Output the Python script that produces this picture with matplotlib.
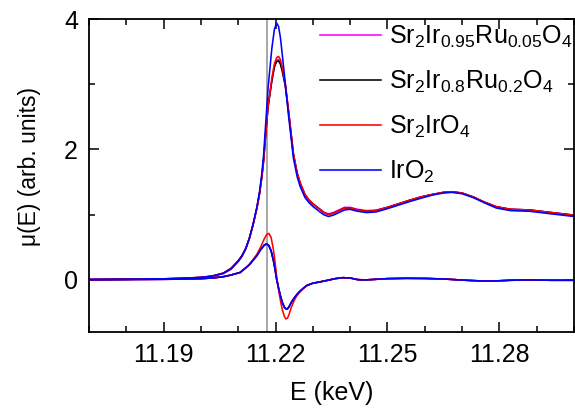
import matplotlib
matplotlib.use("Agg")
import matplotlib.pyplot as plt
from matplotlib.ticker import MultipleLocator

plt.rcParams["font.family"] = ["Liberation Sans", "DejaVu Sans"]
plt.rcParams["mathtext.fontset"] = "custom"
plt.rcParams["mathtext.rm"] = "Liberation Sans"
plt.rcParams["mathtext.it"] = "Liberation Sans"
plt.rcParams["mathtext.bf"] = "Liberation Sans"

# energy grid for the absorption spectra (keV)
energy_mu = [11.170, 11.180, 11.190, 11.195, 11.200, 11.203, 11.206, 11.208, 11.210, 11.211,
             11.212, 11.213, 11.214, 11.215, 11.2157, 11.2163, 11.2168, 11.2173, 11.2180, 11.2190,
             11.2197, 11.2203, 11.2208, 11.2213, 11.2218, 11.2226, 11.2234, 11.2242, 11.2248, 11.2258,
             11.2266, 11.2279, 11.2290, 11.2301, 11.2319, 11.2330, 11.2342, 11.2355, 11.2370, 11.2385,
             11.2400, 11.2420, 11.2445, 11.2470, 11.2500, 11.2533, 11.2560, 11.2590, 11.2622, 11.2650,
             11.2672, 11.2700, 11.2730, 11.2760, 11.2792, 11.2830, 11.2881, 11.2940, 11.3000]

mu_ru005 = [0.00, 0.005, 0.012, 0.02, 0.035, 0.055, 0.10, 0.17, 0.29, 0.37,
            0.48, 0.64, 0.85, 1.10, 1.32, 1.57, 1.83, 2.20, 2.66, 3.06,
            3.28, 3.37, 3.38, 3.33, 3.22, 2.99, 2.62, 2.22, 1.92, 1.63,
            1.48, 1.30, 1.22, 1.16, 1.08, 1.03, 1.01, 1.03, 1.07, 1.11,
            1.11, 1.08, 1.06, 1.07, 1.11, 1.17, 1.22, 1.27, 1.31, 1.34,
            1.35, 1.33, 1.27, 1.19, 1.12, 1.08, 1.07, 1.03, 0.99]

mu_ru02 = [0.00, 0.005, 0.012, 0.02, 0.035, 0.055, 0.10, 0.17, 0.29, 0.37,
           0.48, 0.64, 0.85, 1.10, 1.32, 1.57, 1.83, 2.20, 2.66, 3.05,
           3.27, 3.35, 3.36, 3.31, 3.20, 2.98, 2.62, 2.22, 1.92, 1.63,
           1.48, 1.30, 1.22, 1.16, 1.08, 1.03, 1.00, 1.02, 1.06, 1.10,
           1.10, 1.07, 1.05, 1.06, 1.11, 1.17, 1.22, 1.27, 1.31, 1.34,
           1.35, 1.33, 1.27, 1.19, 1.12, 1.08, 1.07, 1.03, 0.99]

mu_sr2iro4 = [0.00, 0.005, 0.012, 0.02, 0.033, 0.052, 0.095, 0.16, 0.28, 0.36,
              0.47, 0.63, 0.85, 1.10, 1.32, 1.57, 1.83, 2.20, 2.67, 3.09,
              3.32, 3.41, 3.43, 3.38, 3.26, 3.02, 2.64, 2.23, 1.93, 1.64,
              1.49, 1.31, 1.22, 1.16, 1.08, 1.03, 1.00, 1.02, 1.06, 1.10,
              1.10, 1.07, 1.05, 1.06, 1.11, 1.17, 1.22, 1.27, 1.31, 1.34,
              1.35, 1.33, 1.27, 1.19, 1.12, 1.08, 1.07, 1.03, 0.99]

mu_iro2 = [0.00, 0.005, 0.012, 0.02, 0.033, 0.052, 0.095, 0.16, 0.28, 0.36,
           0.47, 0.64, 0.86, 1.12, 1.35, 1.62, 1.92, 2.35, 2.95, 3.55,
           3.85, 3.94, 3.89, 3.72, 3.46, 3.02, 2.56, 2.16, 1.86, 1.58,
           1.43, 1.26, 1.18, 1.12, 1.04, 0.995, 0.97, 0.99, 1.03, 1.07,
           1.08, 1.05, 1.03, 1.04, 1.09, 1.15, 1.20, 1.25, 1.30, 1.33,
           1.34, 1.32, 1.26, 1.18, 1.10, 1.06, 1.05, 1.01, 0.97]

# energy grid for the derivative spectra (keV)
energy_d = [11.170, 11.180, 11.190, 11.195, 11.200, 11.203, 11.206, 11.208, 11.2105, 11.212,
            11.213, 11.214, 11.215, 11.216, 11.217, 11.2176, 11.2182, 11.2188, 11.2194, 11.2198,
            11.2203, 11.2208, 11.2213, 11.2218, 11.2224, 11.2228, 11.2232, 11.2236, 11.2242, 11.2250,
            11.2257, 11.2265, 11.2275, 11.2284, 11.2300, 11.2319, 11.2340, 11.2360, 11.2380, 11.2400,
            11.2420, 11.2440, 11.2470, 11.2500, 11.2550, 11.2600, 11.2650, 11.2680, 11.2710, 11.2750,
            11.2790, 11.2830, 11.2880, 11.2940, 11.3000]

d_ru005 = [0.0, 0.002, 0.005, 0.008, 0.015, 0.025, 0.045, 0.07, 0.11, 0.18,
           0.23, 0.30, 0.37, 0.46, 0.53, 0.55, 0.525, 0.445, 0.305, 0.185,
           0.005, -0.125, -0.245, -0.345, -0.425, -0.445, -0.445, -0.415, -0.35, -0.28,
           -0.23, -0.18, -0.13, -0.09, -0.055, -0.035, -0.01, 0.015, 0.03, 0.025,
           0.0, -0.005, 0.005, 0.015, 0.02, 0.018, 0.01, 0.0, -0.01, -0.02,
           -0.02, -0.01, -0.005, -0.01, -0.01]

d_ru02 = [0.0, 0.002, 0.005, 0.008, 0.015, 0.025, 0.045, 0.07, 0.11, 0.18,
          0.23, 0.30, 0.37, 0.46, 0.535, 0.55, 0.525, 0.445, 0.30, 0.18,
          0.0, -0.13, -0.25, -0.35, -0.43, -0.45, -0.45, -0.42, -0.355, -0.285,
          -0.23, -0.18, -0.13, -0.09, -0.055, -0.035, -0.01, 0.015, 0.03, 0.025,
          0.0, -0.005, 0.005, 0.015, 0.02, 0.018, 0.01, 0.0, -0.01, -0.02,
          -0.02, -0.01, -0.005, -0.01, -0.01]

d_sr2iro4 = [0.0, 0.002, 0.005, 0.008, 0.015, 0.025, 0.045, 0.07, 0.11, 0.18,
             0.24, 0.31, 0.39, 0.50, 0.63, 0.69, 0.71, 0.65, 0.47, 0.30,
             0.05, -0.15, -0.32, -0.46, -0.57, -0.605, -0.59, -0.54, -0.43, -0.32,
             -0.25, -0.19, -0.135, -0.09, -0.055, -0.035, -0.01, 0.015, 0.03, 0.025,
             0.0, -0.005, 0.005, 0.015, 0.02, 0.018, 0.01, 0.0, -0.01, -0.02,
             -0.02, -0.01, -0.005, -0.01, -0.01]

d_iro2 = [0.0, 0.002, 0.005, 0.008, 0.015, 0.025, 0.045, 0.07, 0.11, 0.18,
          0.23, 0.30, 0.37, 0.46, 0.53, 0.545, 0.52, 0.44, 0.30, 0.18,
          0.0, -0.13, -0.25, -0.35, -0.43, -0.448, -0.448, -0.42, -0.35, -0.28,
          -0.23, -0.18, -0.13, -0.09, -0.055, -0.035, -0.01, 0.015, 0.03, 0.025,
          0.0, -0.005, 0.005, 0.015, 0.02, 0.018, 0.01, 0.0, -0.01, -0.02,
          -0.02, -0.01, -0.005, -0.01, -0.01]

labels = [r"Sr$_2$Ir$_{0.95}$Ru$_{0.05}$O$_4$", r"Sr$_2$Ir$_{0.8}$Ru$_{0.2}$O$_4$",
          r"Sr$_2$IrO$_4$", r"IrO$_2$"]
colors = ["#ff00ff", "#000000", "#ff0000", "#0000ff"]
mu_all = [mu_ru005, mu_ru02, mu_sr2iro4, mu_iro2]
d_all = [d_ru005, d_ru02, d_sr2iro4, d_iro2]

edge_line = 11.2176

fig = plt.figure(figsize=(5.75, 4.09), dpi=100)
ax = fig.add_axes([0.155, 0.189, 0.843, 0.764])

ax.axvline(edge_line, color="#a0a0a0", lw=1.3, zorder=1)

for mu, d, c, lab in zip(mu_all, d_all, colors, labels):
    ax.plot(energy_mu, mu, color=c, lw=1.15, label=lab, zorder=2)
    ax.plot(energy_d, d, color=c, lw=1.15, zorder=2)

ax.set_xlim(11.17, 11.30)
ax.set_ylim(-0.8, 4.0)
ax.xaxis.set_minor_locator(MultipleLocator(0.01))
ax.yaxis.set_major_locator(MultipleLocator(2))
ax.yaxis.set_minor_locator(MultipleLocator(1))
ax.set_xticks([11.19, 11.22, 11.25, 11.28])
ax.set_xticklabels(["11.19", "11.22", "11.25", "11.28"])

ax.tick_params(which="both", direction="in", top=True, right=True, width=1.1,
               labelsize=18, pad=8)
ax.tick_params(which="major", length=7)
ax.tick_params(which="minor", length=4.5)
for s in ax.spines.values():
    s.set_linewidth(1.3)

ax.set_xlabel("E (keV)", fontsize=18)
ax.xaxis.set_label_coords(0.5, -0.158)
ax.set_ylabel("μ(E) (arb. units)", fontsize=16.5)
ax.yaxis.set_label_coords(-0.099, 0.53)

ax.legend(loc="upper left", bbox_to_anchor=(0.476, 0.985), frameon=False, fontsize=18,
          handlelength=2.45, handletextpad=0.3, labelspacing=0.75, borderpad=0,
          borderaxespad=0)

fig.savefig("out.png", dpi=100)
